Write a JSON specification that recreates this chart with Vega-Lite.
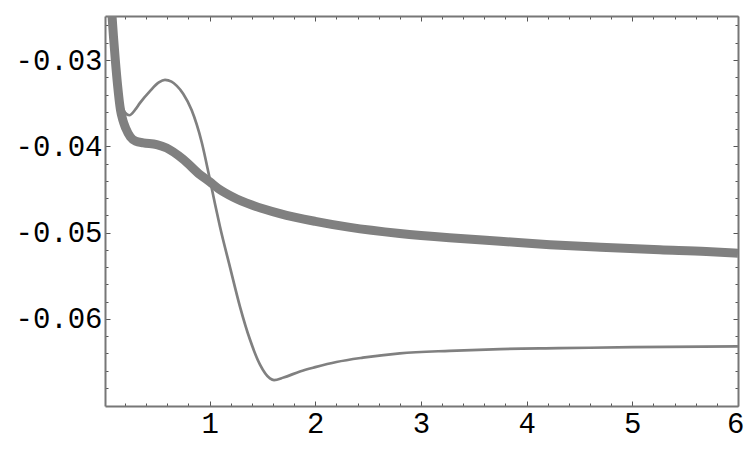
{
  "$schema": "https://vega.github.io/schema/vega-lite/v6.json",
  "autosize": "none",
  "width": 633,
  "height": 390,
  "padding": {"left": 105, "top": 16, "right": 7, "bottom": 54},
  "background": "white",
  "config": {
    "view": {"stroke": null},
    "axis": {
      "domainColor": "#777777",
      "domainWidth": 2,
      "tickColor": "#555555",
      "tickWidth": 1,
      "labelFont": "Liberation Mono",
      "labelFontSize": 29,
      "labelColor": "#000000",
      "labelOverlap": false,
      "labelFlush": false,
      "grid": false,
      "title": null
    }
  },
  "datasets": {
    "thick": [
      {"x": 0.06, "y": -0.0225},
      {"x": 0.077, "y": -0.0249},
      {"x": 0.09, "y": -0.0272},
      {"x": 0.108, "y": -0.0300},
      {"x": 0.13, "y": -0.0330},
      {"x": 0.157, "y": -0.0358},
      {"x": 0.18, "y": -0.0370},
      {"x": 0.206, "y": -0.0379},
      {"x": 0.25, "y": -0.0389},
      {"x": 0.3, "y": -0.0394},
      {"x": 0.373, "y": -0.0396},
      {"x": 0.5, "y": -0.0398},
      {"x": 0.594, "y": -0.0402},
      {"x": 0.75, "y": -0.0415},
      {"x": 0.91, "y": -0.0433},
      {"x": 1.0, "y": -0.0441},
      {"x": 1.083, "y": -0.0449},
      {"x": 1.225, "y": -0.0459},
      {"x": 1.4, "y": -0.0468},
      {"x": 1.666, "y": -0.0478},
      {"x": 2.0, "y": -0.0487},
      {"x": 2.33, "y": -0.0494},
      {"x": 2.8, "y": -0.0501},
      {"x": 3.27, "y": -0.0506},
      {"x": 3.75, "y": -0.0510},
      {"x": 4.22, "y": -0.0514},
      {"x": 4.7, "y": -0.0517},
      {"x": 5.26, "y": -0.0520},
      {"x": 5.7, "y": -0.0522},
      {"x": 6.0, "y": -0.0524}
    ],
    "thin": [
      {"x": 0.065, "y": -0.0230},
      {"x": 0.085, "y": -0.0270},
      {"x": 0.11, "y": -0.0303},
      {"x": 0.14, "y": -0.0336},
      {"x": 0.17, "y": -0.0353},
      {"x": 0.2, "y": -0.0361},
      {"x": 0.24, "y": -0.0364},
      {"x": 0.3, "y": -0.0357},
      {"x": 0.34, "y": -0.0350},
      {"x": 0.436, "y": -0.0336},
      {"x": 0.52, "y": -0.0326},
      {"x": 0.578, "y": -0.0323},
      {"x": 0.64, "y": -0.0325},
      {"x": 0.69, "y": -0.0330},
      {"x": 0.75, "y": -0.0339},
      {"x": 0.83, "y": -0.0358},
      {"x": 0.925, "y": -0.0395},
      {"x": 0.997, "y": -0.0435},
      {"x": 1.05, "y": -0.0466},
      {"x": 1.098, "y": -0.0493},
      {"x": 1.193, "y": -0.0540},
      {"x": 1.288, "y": -0.0586},
      {"x": 1.382, "y": -0.0624},
      {"x": 1.477, "y": -0.0653},
      {"x": 1.571, "y": -0.0669},
      {"x": 1.61, "y": -0.0671},
      {"x": 1.7, "y": -0.0668},
      {"x": 1.855, "y": -0.0661},
      {"x": 2.0, "y": -0.0656},
      {"x": 2.2, "y": -0.0650},
      {"x": 2.45, "y": -0.0645},
      {"x": 2.8, "y": -0.0640},
      {"x": 3.27, "y": -0.0637},
      {"x": 3.75, "y": -0.0635},
      {"x": 4.3, "y": -0.0634},
      {"x": 5.0, "y": -0.06328},
      {"x": 6.0, "y": -0.0632}
    ]
  },
  "layer": [
    {
      "data": {"name": "thick"},
      "mark": {"type": "line", "color": "#808080", "strokeWidth": 9, "interpolate": "monotone", "clip": true, "strokeCap": "butt"},
      "encoding": {
        "x": {
          "field": "x", "type": "quantitative",
          "scale": {"domain": [0.0104, 6.0], "nice": false, "zero": false},
          "axis": {
            "orient": "bottom",
            "values": [0.2,0.4,0.6,0.8,1,1.2,1.4,1.6,1.8,2,2.2,2.4,2.6,2.8,3,3.2,3.4,3.6,3.8,4,4.2,4.4,4.6,4.8,5,5.2,5.4,5.6,5.8,6],
            "tickSize": {"condition": {"test": "abs(datum.value - round(datum.value)) < 1e-6", "value": -5}, "value": -3},
            "labelExpr": "abs(datum.value - round(datum.value)) < 1e-6 ? toString(round(datum.value)) : ''",
            "labelPadding": 8,
            "labelFlush": true,
            "labelFlushOffset": 6
          }
        },
        "y": {
          "field": "y", "type": "quantitative",
          "scale": {"domain": [-0.0701, -0.0249], "nice": false, "zero": false},
          "axis": {
            "orient": "left",
            "values": [-0.068,-0.066,-0.064,-0.062,-0.06,-0.058,-0.056,-0.054,-0.052,-0.05,-0.048,-0.046,-0.044,-0.042,-0.04,-0.038,-0.036,-0.034,-0.032,-0.03,-0.028,-0.026],
            "tickSize": {"condition": {"test": "abs(datum.value*100 - round(datum.value*100)) < 1e-6", "value": -5}, "value": -3},
            "labelExpr": "abs(datum.value*100 - round(datum.value*100)) < 1e-6 ? '-0.0' + toString(round(-datum.value*100)) : ''",
            "labelPadding": 8
          }
        },
        "order": {"field": "x", "type": "quantitative"}
      }
    },
    {
      "data": {"name": "thin"},
      "mark": {"type": "line", "color": "#808080", "strokeWidth": 2.7, "interpolate": "monotone", "clip": true},
      "encoding": {
        "x": {
          "field": "x", "type": "quantitative",
          "scale": {"domain": [0.0104, 6.0], "nice": false, "zero": false},
          "axis": {
            "orient": "top",
            "labels": false,
            "values": [0.2,0.4,0.6,0.8,1,1.2,1.4,1.6,1.8,2,2.2,2.4,2.6,2.8,3,3.2,3.4,3.6,3.8,4,4.2,4.4,4.6,4.8,5,5.2,5.4,5.6,5.8,6],
            "tickSize": {"condition": {"test": "abs(datum.value - round(datum.value)) < 1e-6", "value": -5}, "value": -3}
          }
        },
        "y": {
          "field": "y", "type": "quantitative",
          "scale": {"domain": [-0.0701, -0.0249], "nice": false, "zero": false},
          "axis": {
            "orient": "right",
            "labels": false,
            "values": [-0.068,-0.066,-0.064,-0.062,-0.06,-0.058,-0.056,-0.054,-0.052,-0.05,-0.048,-0.046,-0.044,-0.042,-0.04,-0.038,-0.036,-0.034,-0.032,-0.03,-0.028,-0.026],
            "tickSize": {"condition": {"test": "abs(datum.value*100 - round(datum.value*100)) < 1e-6", "value": -5}, "value": -3}
          }
        },
        "order": {"field": "x", "type": "quantitative"}
      }
    }
  ],
  "resolve": {"axis": {"x": "independent", "y": "independent"}}
}
